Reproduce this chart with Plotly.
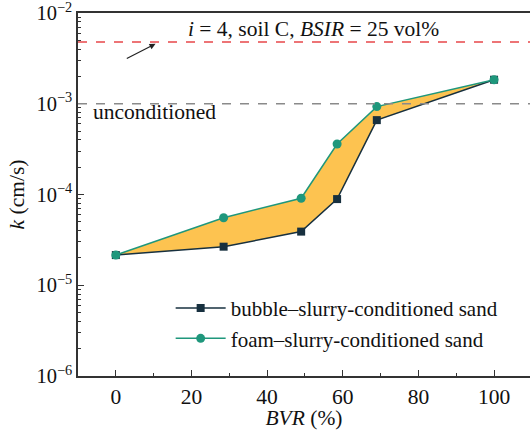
import plotly.graph_objects as go

bvr = [0, 28.5, 49, 58.5, 69, 100]
k_bubble = [2.15e-5, 2.66e-5, 3.9e-5, 8.9e-5, 6.6e-4, 1.84e-3]
k_foam = [2.15e-5, 5.55e-5, 9.1e-5, 3.6e-4, 9.3e-4, 1.84e-3]
k_uncond = 4.8e-3
k_ref = 1e-3
x_ticks = [0, 20, 40, 60, 80, 100]
y_ticks = [1e-6, 1e-5, 1e-4, 1e-3, 1e-2]
y_ticktext = ["10<sup>−6</sup>", "10<sup>−5</sup>", "10<sup>−4</sup>", "10<sup>−3</sup>", "10<sup>−2</sup>"]

FONT = "Liberation Serif"
FS = 21.5
NAVY = "#17303f"
TEAL = "#1f977c"
FILL = "#fdc350"

fig = go.Figure()
# fill region
fig.add_trace(go.Scatter(x=bvr, y=k_bubble, mode="lines", line=dict(width=0),
                         showlegend=False, hoverinfo="skip"))
fig.add_trace(go.Scatter(x=bvr, y=k_foam, mode="lines", line=dict(width=0),
                         fill="tonexty", fillcolor=FILL, showlegend=False, hoverinfo="skip"))
fig.add_trace(go.Scatter(x=bvr, y=k_bubble, mode="lines+markers", name="bubble–slurry-conditioned sand",
                         line=dict(color=NAVY, width=1.5),
                         marker=dict(symbol="square", size=8, color=NAVY)))
fig.add_trace(go.Scatter(x=bvr, y=k_foam, mode="lines+markers", name="foam–slurry-conditioned sand",
                         line=dict(color=TEAL, width=1.5),
                         marker=dict(symbol="circle", size=9, color=TEAL)))

fig.add_shape(type="line", xref="paper", yref="y", x0=0, x1=1, y0=k_uncond, y1=k_uncond,
              line=dict(color="#e8474a", width=1.5, dash="dash"))
fig.add_shape(type="line", xref="paper", yref="y", x0=0, x1=1, y0=k_ref, y1=k_ref,
              line=dict(color="#8a8a8a", width=1.5, dash="dash"))

fig.add_annotation(xref="paper", yref="paper", x=0.52, y=0.956, showarrow=False,
                   xanchor="center", yanchor="middle",
                   text="<i>i</i> = 4, soil C, <i>BSIR</i> = 25 vol%",
                   font=dict(family=FONT, size=FS, color="#111"))
fig.add_annotation(x=-6.5, y=-3.09, xref="x", yref="y", showarrow=False, xanchor="left",
                   yanchor="middle",
                   text="unconditioned", font=dict(family=FONT, size=FS, color="#111"))
fig.add_annotation(x=10.5, y=-2.34, ax=2.5, ay=-2.51, xref="x", yref="y", axref="x", ayref="y",
                   showarrow=True, arrowhead=2, arrowsize=1, arrowwidth=1.2, arrowcolor="#222", text="")

fig.update_layout(
    width=530, height=430,
    margin=dict(l=78, r=0, t=13, b=54, autoexpand=False),
    paper_bgcolor="white", plot_bgcolor="white",
    font=dict(family=FONT, size=FS, color="#111"),
    showlegend=True,
    legend=dict(x=0.205, y=0.145, xanchor="left", yanchor="middle", bgcolor="rgba(0,0,0,0)",
                traceorder="normal",
                font=dict(family=FONT, size=21), tracegroupgap=0, itemwidth=50),
)
fig.update_xaxes(range=[-10, 109.5], tickvals=x_ticks, ticks="inside", ticklen=6, tickwidth=1.2,
                 tickcolor="#333", showline=True, linecolor="#333", linewidth=1.5, mirror=True,
                 showgrid=False, zeroline=False, automargin=False,
                 tickfont=dict(family=FONT, size=FS),
                 minor=dict(ticks="inside", ticklen=3, tickcolor="#333", dtick=10, tick0=0),
                 title=dict(text="<i>BVR</i> (%)", standoff=0, font=dict(family=FONT, size=FS)))
fig.update_yaxes(type="log", range=[-6, -2], tickvals=y_ticks, ticktext=y_ticktext,
                 ticks="inside", ticklen=6, tickwidth=1.2, tickcolor="#333",
                 showline=True, linecolor="#333", linewidth=1.5, mirror=True,
                 showgrid=False, zeroline=False, automargin=False,
                 ticklabeloverflow="allow",
                 tickfont=dict(family=FONT, size=20.5),
                 minor=dict(ticks="inside", ticklen=3, tickcolor="#333", dtick="D1"),
                 title=dict(text="<i>k</i> (cm/s)", standoff=6, font=dict(family=FONT, size=FS)))

fig.write_html("out.html")
